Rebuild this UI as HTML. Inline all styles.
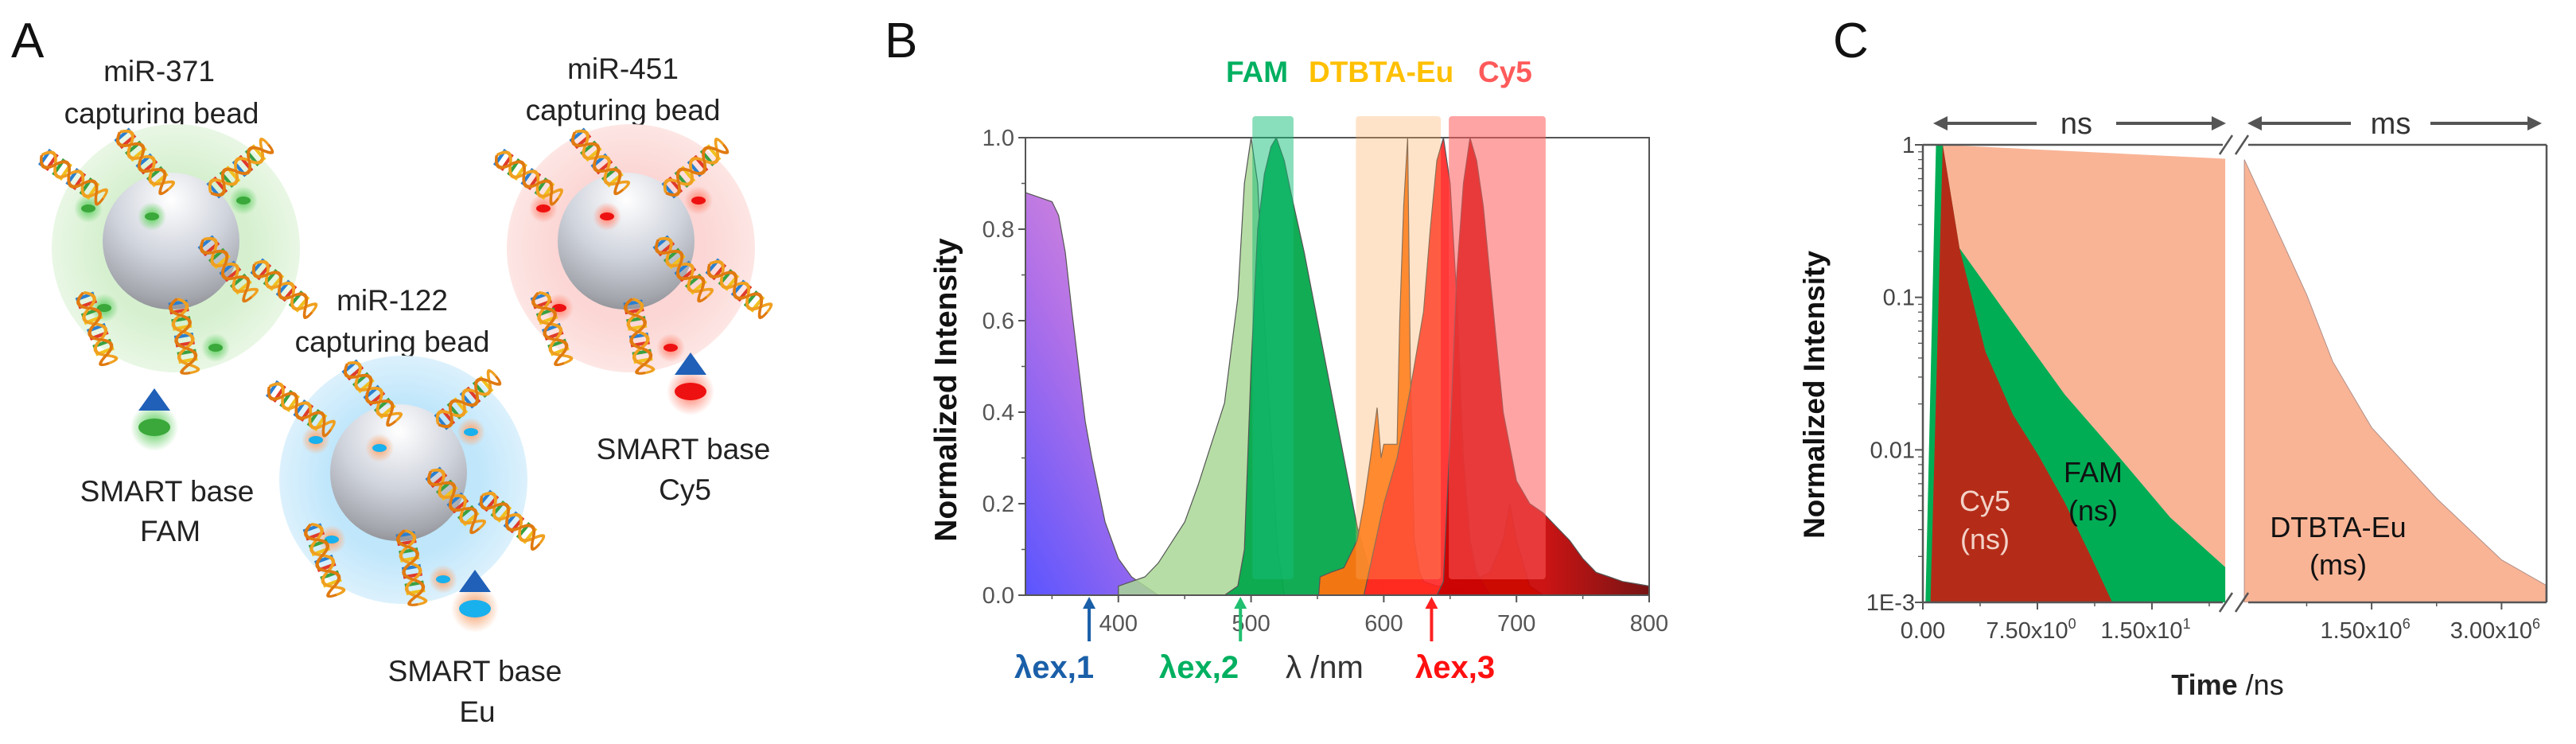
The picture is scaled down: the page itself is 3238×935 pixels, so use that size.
<!DOCTYPE html>
<html><head><meta charset="utf-8"><style>
html,body{margin:0;padding:0;background:#fff;}
svg{display:block;font-family:"Liberation Sans",Arial,sans-serif;}
</style></head><body>
<svg id="fig" width="3238" height="935" viewBox="0 0 3238 935" xmlns="http://www.w3.org/2000/svg">
<defs>
<radialGradient id="gHalo"><stop offset="0.6" stop-color="#d6f0cf"/><stop offset="1" stop-color="#e9f7e5"/></radialGradient>
<radialGradient id="rHalo"><stop offset="0.6" stop-color="#fbd6d4"/><stop offset="1" stop-color="#fde6e4"/></radialGradient>
<radialGradient id="bHalo"><stop offset="0.6" stop-color="#bfe6fb"/><stop offset="1" stop-color="#dcf1fc"/></radialGradient>
<radialGradient id="bead" cx="0.5" cy="0.2" r="0.85"><stop offset="0" stop-color="#ffffff"/><stop offset="0.5" stop-color="#cfd3dc"/><stop offset="0.85" stop-color="#a4a6ad"/><stop offset="1" stop-color="#8a8b90"/></radialGradient>
<radialGradient id="glowG"><stop offset="0.3" stop-color="#7fd77f"/><stop offset="1" stop-color="#7fd77f" stop-opacity="0"/></radialGradient>
<radialGradient id="glowR"><stop offset="0.3" stop-color="#ff9a8a"/><stop offset="1" stop-color="#ff9a8a" stop-opacity="0"/></radialGradient>
<radialGradient id="glowO"><stop offset="0.3" stop-color="#f7b48a"/><stop offset="1" stop-color="#f7b48a" stop-opacity="0"/></radialGradient>
<linearGradient id="purpleGrad" x1="0" y1="1" x2="0.6" y2="0"><stop offset="0" stop-color="#5a55ff"/><stop offset="0.6" stop-color="#b070e8"/><stop offset="1" stop-color="#d88ad8"/></linearGradient>
<linearGradient id="darkRedGrad" x1="0" y1="0" x2="1" y2="0"><stop offset="0.5" stop-color="#c80000"/><stop offset="1" stop-color="#6a0000"/></linearGradient>
<clipPath id="clipB"><rect x="1289" y="140" width="784" height="608"/></clipPath>
<clipPath id="clipCL"><rect x="2417" y="182" width="383" height="575"/></clipPath>
<clipPath id="clipCR"><rect x="2820" y="182" width="381" height="575"/></clipPath>
</defs>

<g id="panelA">
<text x="14" y="72" font-size="62" fill="#111">A</text>
<g font-size="37" fill="#222" text-anchor="middle">
<text x="200" y="102">miR-371</text>
<text x="203" y="155">capturing bead</text>
<text x="783" y="99">miR-451</text>
<text x="783" y="151">capturing bead</text>
<text x="493" y="390">miR-122</text>
<text x="493" y="442">capturing bead</text>
<text x="210" y="630">SMART base</text>
<text x="214" y="680">FAM</text>
<text x="859" y="577">SMART base</text>
<text x="861" y="628">Cy5</text>
<text x="597" y="856">SMART base</text>
<text x="600" y="907">Eu</text>
</g>
<g id="beads"></g>
</g>

<g id="panelB">
<text x="1112" y="72" font-size="62" fill="#111">B</text>
<g font-size="37" font-weight="bold">
<text x="1541" y="103" fill="#00b060">FAM</text>
<text x="1645" y="103" fill="#ffc000">DTBTA-Eu</text>
<text x="1858" y="103" fill="#ff5a5a">Cy5</text>
</g>
<g id="specMarks" clip-path="url(#clipB)"></g>
<g id="specAxes"></g>
<g font-size="40" font-weight="bold">
<text x="1275" y="852" fill="#1a5fa8">λex,1</text>
<text x="1457" y="852" fill="#00b060">λex,2</text>
<text x="1616" y="852" fill="#333" font-weight="normal">λ /nm</text>
<text x="1779" y="852" fill="#ff1010">λex,3</text>
</g>
<text transform="translate(1202,490) rotate(-90)" text-anchor="middle" font-size="39" font-weight="bold" fill="#111">Normalized Intensity</text>
</g>

<g id="panelC">
<text x="2304" y="72" font-size="62" fill="#111">C</text>
<g id="decayMarks"></g>
<g id="decayAxes"></g>
<text transform="translate(2293,496) rotate(-90)" text-anchor="middle" font-size="37" font-weight="bold" fill="#111">Normalized Intensity</text>
<text x="2800" y="873" text-anchor="middle" font-size="36" fill="#222"><tspan font-weight="bold">Time</tspan> /ns</text>
<g font-size="36" fill="#f3d2c8" text-anchor="middle">
<text x="2495" y="642">Cy5</text>
<text x="2495" y="690">(ns)</text>
</g>
<g font-size="36" fill="#111" text-anchor="middle">
<text x="2631" y="606">FAM</text>
<text x="2631" y="654">(ns)</text>
<text x="2939" y="675">DTBTA-Eu</text>
<text x="2939" y="722">(ms)</text>
</g>
</g>
</svg>
<script>
const purpleWl = [330,340,350,355,360,365,370,375,380,390,400,410,420,430];
const purpleVal = [0.88,0.87,0.86,0.83,0.75,0.62,0.5,0.38,0.3,0.16,0.08,0.04,0.02,0];
const famAbsWl = [400,420,430,450,460,470,480,490,495,500,505,510,515,520,525];
const famAbsVal = [0.02,0.04,0.07,0.16,0.24,0.33,0.42,0.65,0.9,1.0,0.9,0.6,0.35,0.1,0];
const famEmWl = [480,490,495,500,505,510,515,519,525,530,540,550,560,570,580,590,600];
const famEmVal = [0,0.02,0.1,0.5,0.8,0.92,0.98,1.0,0.95,0.88,0.75,0.6,0.45,0.3,0.15,0.05,0.02];
const euWl = [551,552,560,570,580,585,590,595,598,600,605,610,612,615,618,620,623,627,630,640,660,680,690,695,700,710,720];
const euVal = [0,0.04,0.05,0.06,0.12,0.2,0.3,0.41,0.3,0.33,0.33,0.33,0.6,0.85,1.0,0.5,0.12,0.05,0.03,0.02,0.02,0.05,0.12,0.2,0.12,0.02,0];
const cy5AbsWl = [585,600,610,620,630,635,640,645,650,655,660,665,670,680];
const cy5AbsVal = [0,0.2,0.3,0.45,0.62,0.8,0.95,1.0,0.9,0.65,0.3,0.12,0.05,0];
const cy5EmWl = [640,645,650,655,660,665,670,675,680,690,700,710,720,730,740,750,760,770,780,790,800];
const cy5EmVal = [0,0.03,0.35,0.7,0.9,1.0,0.95,0.85,0.7,0.4,0.25,0.2,0.18,0.15,0.12,0.08,0.05,0.04,0.03,0.025,0.02];
const bXTicks = [400,500,600,700,800];
const bYTicks = [0,0.2,0.4,0.6,0.8,1.0];
const bYTickLabels = ["0.0","0.2","0.4","0.6","0.8","1.0"];
const exWl = [378,492,636];
const bandLo = [501,579,649];
const bandHi = [532,643,722];

const salmonNsT = [1.0,1.3,19.8];
const salmonNsV = [0.001,1,0.81];
const famDecayT = [0.17,0.86,1.3,2.4,5.9,9.3,12.8,16.2,19.8];
const famDecayV = [0.001,1,1,0.21,0.068,0.023,0.0091,0.0036,0.0017];
const cy5DecayT = [0.5,1.3,2.4,4.1,5.9,7.6,9.3,11.0,12.4];
const cy5DecayV = [0.001,1,0.21,0.044,0.017,0.0091,0.0045,0.002,0.001];
const euDecayT = [0.03,0.45,0.75,1.05,1.5,2.25,3.0,3.51];
const euDecayV = [0.8,0.245,0.104,0.038,0.014,0.0048,0.0019,0.0013];
const cLeftTicks = [0,7.5,15];
const cLeftTickLabels = ["0.00","7.50x10","1.50x10"];
const cLeftTickExp = ["","0","1"];
const cRightTicks = [1.5,3.0];
const cRightTickLabels = ["1.50x10","3.00x10"];
const cYTicks = [1,0.1,0.01,0.001];
const cYTickLabels = ["1","0.1","0.01","1E-3"];

const NS = "http://www.w3.org/2000/svg";
function mk(tag, attrs, parent){const e=document.createElementNS(NS,tag);for(const k in attrs)e.setAttribute(k,attrs[k]);parent.appendChild(e);return e;}

const bL=1289,bR=2073,bT=173,bB=748;
const xB = v => bL + (v-330)/(800-330)*(bR-bL);
const yB = v => bB - v*(bB-bT);
const specG=document.getElementById('specMarks');
function areaPath(xs,vs){let d='M'+xB(xs[0])+','+yB(0);for(let i=0;i<xs.length;i++)d+=' L'+xB(xs[i]).toFixed(1)+','+yB(vs[i]).toFixed(1);d+=' L'+xB(xs[xs.length-1])+','+yB(0)+' Z';return d;}
const specSeries=[
 [purpleWl,purpleVal,'url(#purpleGrad)',1,'spectrum-uv-absorption'],
 [famAbsWl,famAbsVal,'#a9d795',0.85,'spectrum-fam-absorption'],
 [famEmWl,famEmVal,'#05a84c',0.95,'spectrum-fam-emission'],
 [euWl,euVal,'#ff7410',0.95,'spectrum-eu-emission'],
 [cy5AbsWl,cy5AbsVal,'#ff2222',0.9,'spectrum-cy5-absorption'],
 [cy5EmWl,cy5EmVal,'url(#darkRedGrad)',0.92,'spectrum-cy5-emission']];
specSeries.forEach(s=>{
 const p=mk('path',{d:areaPath(s[0],s[1]),fill:s[2],'fill-opacity':s[3],stroke:'#555','stroke-width':1.2},specG);
 
 
});
const bandFill=['rgba(20,190,120,0.5)','rgba(255,170,90,0.33)','rgba(255,90,90,0.55)'];
const bandNames=['band-fam','band-dtbta-eu','band-cy5'];
const bandsG=mk('g',{},document.getElementById('panelB'));
for(let i=0;i<3;i++){
 const r=mk('rect',{x:xB(bandLo[i]),y:146,width:xB(bandHi[i])-xB(bandLo[i]),height:582,fill:bandFill[i],rx:4},bandsG);
 
 
}
const axB=document.getElementById('specAxes');
const frame=mk('rect',{x:bL,y:bT,width:bR-bL,height:bB-bT,fill:'none',stroke:'#555','stroke-width':2},axB);


bYTicks.forEach((v,i)=>{
 mk('line',{x1:bL-9,x2:bL,y1:yB(v),y2:yB(v),stroke:'#555','stroke-width':2},axB);
 if(i<bYTicks.length-1) mk('line',{x1:bL-5,x2:bL,y1:yB(v+0.1),y2:yB(v+0.1),stroke:'#555','stroke-width':1.5},axB);
 const t=mk('text',{x:bL-14,y:yB(v)+10,'text-anchor':'end','font-size':29,fill:'#555'},axB);
 t.textContent=bYTickLabels[i];
 
 
});
bXTicks.forEach(v=>{
 mk('line',{x1:xB(v),x2:xB(v),y1:bB,y2:bB+9,stroke:'#555','stroke-width':2},axB);
 mk('line',{x1:xB(v-50),x2:xB(v-50),y1:bB,y2:bB+5,stroke:'#555','stroke-width':1.5},axB);
 const t=mk('text',{x:xB(v),y:bB+45,'text-anchor':'middle','font-size':29,fill:'#555'},axB);
 t.textContent=String(v);
 
 
});
const exCol=['#1a5fa8','#20c070','#ff2020'];
exWl.forEach((w,i)=>{
 const g=mk('g',{},axB);
 
 
 mk('line',{x1:xB(w),x2:xB(w),y1:806,y2:762,stroke:exCol[i],'stroke-width':4},g);
 mk('path',{d:`M${xB(w)-8},765 L${xB(w)},750 L${xB(w)+8},765 Z`,fill:exCol[i]},g);
});

const cT=182,cB=757,cL=2417,cBrL=2800,cBrR=2820,cR=3201;
const yC = v => cT + (-Math.log10(v))/3*(cB-cT);
const xCL = t => cL + (t-0)/(19.95)*(cBrL-cL);
const xCR = t => cBrR + (t-0.02)/(3.52-0.02)*(cR-cBrR);
const dm=document.getElementById('decayMarks');
function poly(xs,vs,xf){let d='';for(let i=0;i<xs.length;i++)d+=(i?' L':'M')+xf(xs[i]).toFixed(1)+','+yC(vs[i]).toFixed(1);d+=' L'+xf(xs[xs.length-1]).toFixed(1)+','+cB+' L'+xf(xs[0]).toFixed(1)+','+cB+' Z';return d;}
const gl=mk('g',{'clip-path':'url(#clipCL)'},dm);
let p;
p=mk('path',{d:poly(salmonNsT,salmonNsV,xCL),fill:'#f9b496'},gl);


p=mk('path',{d:poly(famDecayT,famDecayV,xCL),fill:'#00ad55'},gl);


p=mk('path',{d:poly(cy5DecayT,cy5DecayV,xCL),fill:'#b42c18'},gl);


const gr=mk('g',{'clip-path':'url(#clipCR)'},dm);
p=mk('path',{d:poly(euDecayT,euDecayV,xCR),fill:'#f9b496',stroke:'#b09088','stroke-width':1},gr);


const axC=document.getElementById('decayAxes');
const ax={stroke:'#555','stroke-width':2.5};
mk('line',Object.assign({x1:cL,x2:cL,y1:cT,y2:cB},ax),axC);
mk('line',Object.assign({x1:cR,x2:cR,y1:cT,y2:cB},ax),axC);
mk('line',Object.assign({x1:cL,x2:cBrL-6,y1:cT,y2:cT},ax),axC);
mk('line',Object.assign({x1:cBrR+6,x2:cR,y1:cT,y2:cT},ax),axC);
mk('line',Object.assign({x1:cL,x2:cBrL-6,y1:cB,y2:cB},ax),axC);
mk('line',Object.assign({x1:cBrR+6,x2:cR,y1:cB,y2:cB},ax),axC);
[cT,cB].forEach(yy=>{[cBrL-4,cBrR-4].forEach(xx=>{mk('line',Object.assign({x1:xx-6,x2:xx+10,y1:yy+12,y2:yy-12},ax),axC);});});
cYTicks.forEach((v,i)=>{
 mk('line',{x1:cL-10,x2:cL,y1:yC(v),y2:yC(v),stroke:'#555','stroke-width':2},axC);
 if(v>0.001){for(let k=2;k<10;k++){const mv=v/10*k;mk('line',{x1:cL-6,x2:cL,y1:yC(mv),y2:yC(mv),stroke:'#555','stroke-width':1.3},axC);}}
 const t=mk('text',{x:cL-10,y:yC(v)+10,'text-anchor':'end','font-size':29,fill:'#444'},axC);
 t.textContent=cYTickLabels[i];
 
 
});
cLeftTicks.forEach((v,i)=>{
 mk('line',{x1:xCL(v),x2:xCL(v),y1:cB,y2:cB+9,stroke:'#555','stroke-width':2},axC);
 mk('line',{x1:xCL(v+3.75),x2:xCL(v+3.75),y1:cB,y2:cB+5,stroke:'#555','stroke-width':1.5},axC);
 const t=mk('text',{x:xCL(v)+(i?-8:0),y:cB+45,'text-anchor':'middle','font-size':29,fill:'#444'},axC);
 t.textContent=cLeftTickLabels[i];
 if(cLeftTickExp[i]){const s=mk('tspan',{dy:-12,'font-size':18},t);s.textContent=cLeftTickExp[i];}
 
 
});
cRightTicks.forEach((v,i)=>{
 mk('line',{x1:xCR(v),x2:xCR(v),y1:cB,y2:cB+9,stroke:'#555','stroke-width':2},axC);
 mk('line',{x1:xCR(v-0.75),x2:xCR(v-0.75),y1:cB,y2:cB+5,stroke:'#555','stroke-width':1.5},axC);
 const t=mk('text',{x:xCR(v)-8,y:cB+45,'text-anchor':'middle','font-size':29,fill:'#444'},axC);
 t.textContent=cRightTickLabels[i];
 const s=mk('tspan',{dy:-12,'font-size':18},t);s.textContent='6';
 
 
});
function rangeArrow(x1,x2,label,cx,name){
 const g=mk('g',{},axC);
 
 
 mk('line',{x1:x1+10,x2:cx-50,y1:155,y2:155,stroke:'#555','stroke-width':4},g);
 mk('line',{x1:cx+50,x2:x2-10,y1:155,y2:155,stroke:'#555','stroke-width':4},g);
 mk('path',{d:`M${x1},155 L${x1+18},146 L${x1+18},164 Z`,fill:'#555'},g);
 mk('path',{d:`M${x2},155 L${x2-18},146 L${x2-18},164 Z`,fill:'#555'},g);
 const t=mk('text',{x:cx,y:168,'text-anchor':'middle','font-size':38,fill:'#333'},g);t.textContent=label;
}
rangeArrow(2430,2798,'ns',2610,'ns-range-arrow');
rangeArrow(2825,3195,'ms',3005,'ms-range-arrow');

const beadsG=document.getElementById('beads');
const beadCx=[221,793,507], beadCy=[312,312,603];
const halos=['url(#gHalo)','url(#rHalo)','url(#bHalo)'];
const beadNames=['mir371-bead','mir451-bead','mir122-bead'];
const dotCol=['#3aa83a','#ee1111','#19b0ee'];
const glowCol=['url(#glowG)','url(#glowR)','url(#glowO)'];
const strandOff=[[-130,-90,35],[-40,-110,50],[80,-100,-40],[-100,100,70],[10,110,80],[65,25,50],[135,50,40]];
const labelOff=[[-110,-50],[-30,-40],[85,-60],[-90,75],[50,125]];
function helix(g,x,y,rot){
 const h=mk('g',{transform:`translate(${x},${y}) rotate(${rot}) scale(1.05,1.5)`},g);
 
 
 const cols=['#2a7fd0','#e03b2b','#3aa040','#f0c020'];
 for(let k=0;k<8;k++){mk('line',{x1:-40+k*10,x2:-40+k*10,y1:-8,y2:8,stroke:cols[k%4],'stroke-width':4},h);}
 mk('path',{d:'M-45,0 Q-35,-14 -25,0 T-5,0 T15,0 T35,0 T45,0',fill:'none',stroke:'#f0a020','stroke-width':3},h);
 mk('path',{d:'M-45,0 Q-35,14 -25,0 T-5,0 T15,0 T35,0 T45,0',fill:'none',stroke:'#e07a10','stroke-width':3},h);
}
for(let i=0;i<3;i++){
 const g=mk('g',{},beadsG);
 
 
 mk('circle',{cx:beadCx[i],cy:beadCy[i],r:156,fill:halos[i]},g);
 mk('circle',{cx:beadCx[i]-6,cy:beadCy[i]-9,r:86,fill:'url(#bead)'},g);
 labelOff.forEach(o=>{
  mk('circle',{cx:beadCx[i]+o[0],cy:beadCy[i]+o[1],r:18,fill:glowCol[i]},g);
  mk('ellipse',{cx:beadCx[i]+o[0],cy:beadCy[i]+o[1],rx:9,ry:5,fill:dotCol[i]},g);
 });
 strandOff.forEach(o=>helix(g,beadCx[i]+o[0],beadCy[i]+o[1],o[2]));
}
const baseX=[194,868,597], baseY=[504,459,732];
const baseNames=['smart-base-fam-icon','smart-base-cy5-icon','smart-base-eu-icon'];
for(let i=0;i<3;i++){
 const g=mk('g',{},beadsG);
 
 
 const x=baseX[i],y=baseY[i];
 mk('circle',{cx:x,cy:y+33,r:30,fill:glowCol[i]},g);
 mk('path',{d:`M${x-20},${y+12} L${x},${y-16} L${x+20},${y+12} Z`,fill:'#2060b8'},g);
 mk('ellipse',{cx:x,cy:y+33,rx:20,ry:11,fill:dotCol[i]},g);
}
</script>
</body></html>
